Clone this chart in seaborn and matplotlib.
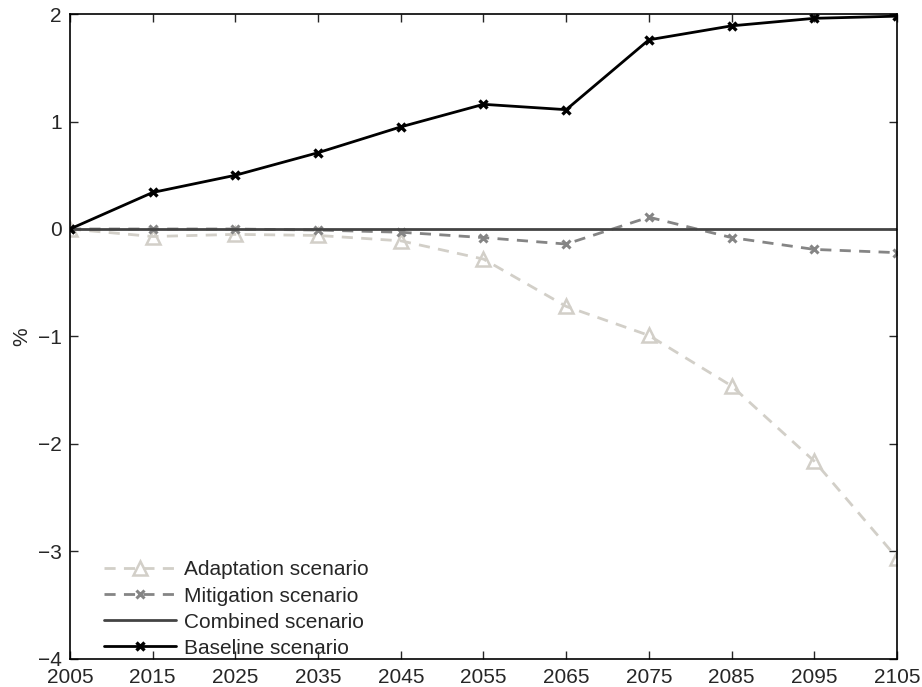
import numpy as np
import pandas as pd
import matplotlib
matplotlib.use("Agg")
import matplotlib.pyplot as plt
import seaborn as sns

years = [2005, 2015, 2025, 2035, 2045, 2055, 2065, 2075, 2085, 2095, 2105]
adaptation = [0.0, -0.07, -0.05, -0.06, -0.11, -0.28, -0.72, -0.99, -1.46, -2.16, -3.06]
mitigation = [0.0, 0.0, 0.0, -0.01, -0.03, -0.08, -0.14, 0.11, -0.08, -0.19, -0.22]
combined = [0.0] * len(years)
baseline = [0.0, 0.34, 0.50, 0.71, 0.95, 1.16, 1.11, 1.76, 1.89, 1.96, 1.98]
y_ticks = [-4, -3, -2, -1, 0, 1, 2]

sns.set_theme(style="white")
plt.rcParams["font.family"] = ["Liberation Sans", "DejaVu Sans"]

fig = plt.figure(figsize=(9.22, 6.87), dpi=100)
ax = fig.add_axes([0.0759, 0.0408, 0.8970, 0.9388])

series = [
    ("Adaptation scenario", adaptation, dict(color="#d2cfc8", ls=(0, (4, 3)), marker="^", ms=10,
                                            mfc="none", mew=1.8)),
    ("Mitigation scenario", mitigation, dict(color="#858585", ls=(0, (4, 3)), marker="x", ms=6,
                                            mew=2.2)),
    ("Combined scenario", combined, dict(color="#444444", ls="-", marker=None)),
    ("Baseline scenario", baseline, dict(color="#000000", ls="-", marker="x", ms=6, mew=2.4)),
]

for label, vals, st in series:
    df = pd.DataFrame({"year": years, "value": vals})
    kw = dict(color=st["color"], linestyle=st["ls"], linewidth=2.0, label=label)
    if st["marker"]:
        kw.update(marker=st["marker"], markersize=st["ms"], markeredgewidth=st["mew"],
                  markeredgecolor=st["color"])
        if "mfc" in st:
            kw["markerfacecolor"] = st["mfc"]
    sns.lineplot(data=df, x="year", y="value", ax=ax, **kw)

ax.set_xlim(2005, 2105)
ax.set_ylim(-4, 2)
ax.set_xticks(years)
ax.set_yticks(y_ticks)
ax.set_xlabel("")
ax.set_ylabel("%", fontsize=15, labelpad=5)
ax.tick_params(axis="both", which="both", direction="in", length=6, width=1,
               labelsize=15, top=True, right=True, bottom=True, left=True)
ax.tick_params(axis="x", pad=6.5)
ax.tick_params(axis="y", pad=6)
for sp in ax.spines.values():
    sp.set_visible(True)
    sp.set_color("black")
    sp.set_linewidth(1.2)

leg = ax.legend(loc="lower left", frameon=False, fontsize=15, handlelength=3.46,
                labelspacing=0.34, handletextpad=0.4, borderaxespad=0.0,
                bbox_to_anchor=(0.031, -0.011))
ax.grid(False)

fig.savefig("out.png", dpi=100)
